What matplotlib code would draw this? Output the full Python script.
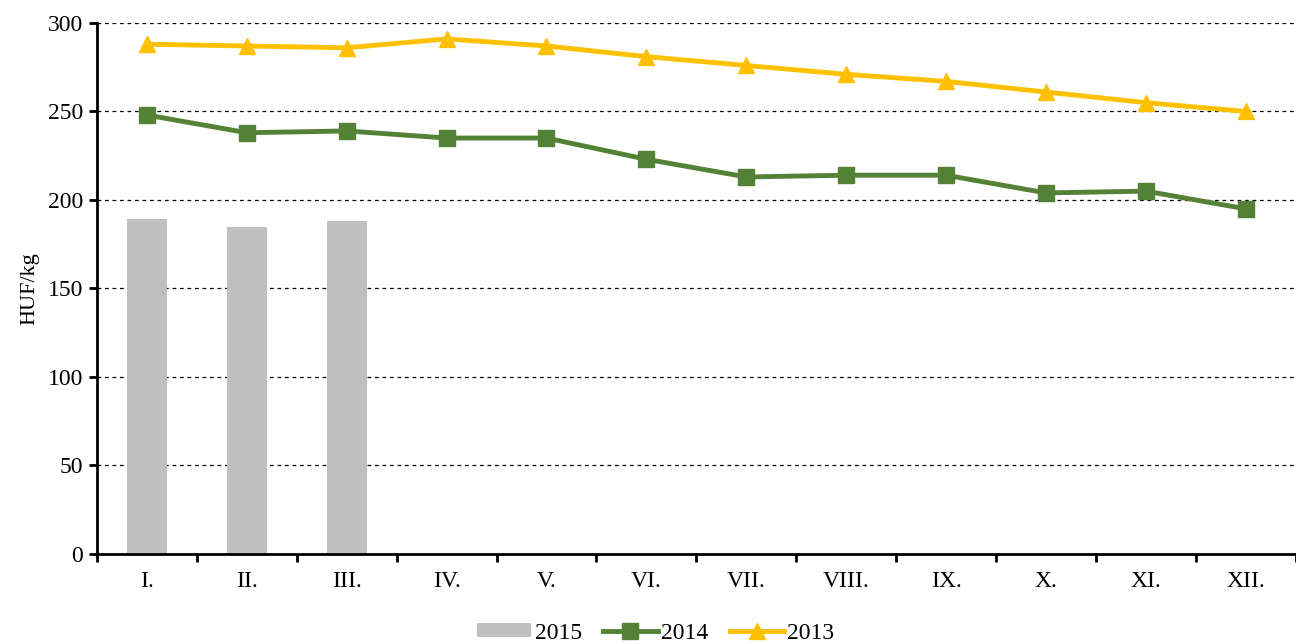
import numpy as np
import matplotlib
matplotlib.use("Agg")
import matplotlib.pyplot as plt

months = ["I.", "II.", "III.", "IV.", "V.", "VI.", "VII.", "VIII.", "IX.", "X.", "XI.", "XII."]
y2015 = [189, 185, 188]
y2014 = [248, 238, 239, 235, 235, 223, 213, 214, 214, 204, 205, 195]
y2013 = [288, 287, 286, 291, 287, 281, 276, 271, 267, 261, 255, 250]

plt.rcParams['font.family'] = ['Liberation Serif', 'DejaVu Serif']
plt.rcParams['font.size'] = 17

fig = plt.figure(figsize=(12.96, 6.44), dpi=100)
ax = fig.add_axes([0.0748, 0.1398, 0.925, 0.8245])

x = np.arange(len(months))
b = ax.bar(x[:len(y2015)], y2015, width=0.4, color='#bfbfbf', label='2015', zorder=2)
l1, = ax.plot(x, y2014, color='#538135', lw=3.5, marker='s', ms=11, label='2014', zorder=3)
l2, = ax.plot(x, y2013, color='#ffc000', lw=3.5, marker='^', ms=11, label='2013', zorder=3)

ax.set_xlim(-0.5, len(months) - 0.5)
ax.set_ylim(0, 300)
ax.set_yticks(range(0, 301, 50))
ax.set_xticks(x)
ax.set_xticklabels(months)
ax.set_xticks(np.arange(-0.5, len(months)), minor=True)
ax.tick_params(axis='x', which='major', length=0, pad=12)
ax.tick_params(axis='x', which='minor', length=6, width=2, direction='out')
ax.tick_params(axis='y', length=6, width=2, direction='out', pad=4)
ax.grid(axis='y', color='black', linestyle=(0, (3, 3)), lw=0.9, zorder=1)
ax.spines['top'].set_visible(False)
ax.spines['right'].set_visible(False)
ax.spines['left'].set_linewidth(2)
ax.spines['bottom'].set_linewidth(2)
ax.set_ylabel('HUF/kg', labelpad=6, fontsize=16)

fig.legend([b, l1, l2], ['2015', '2014', '2013'], loc='lower center',
           bbox_to_anchor=(0.506, -0.014), ncol=3, frameon=False, borderaxespad=0,
           handlelength=2.3, handleheight=0.5, handletextpad=0.15, columnspacing=0.9,
           fontsize=17)

fig.savefig('out.png', dpi=100)
